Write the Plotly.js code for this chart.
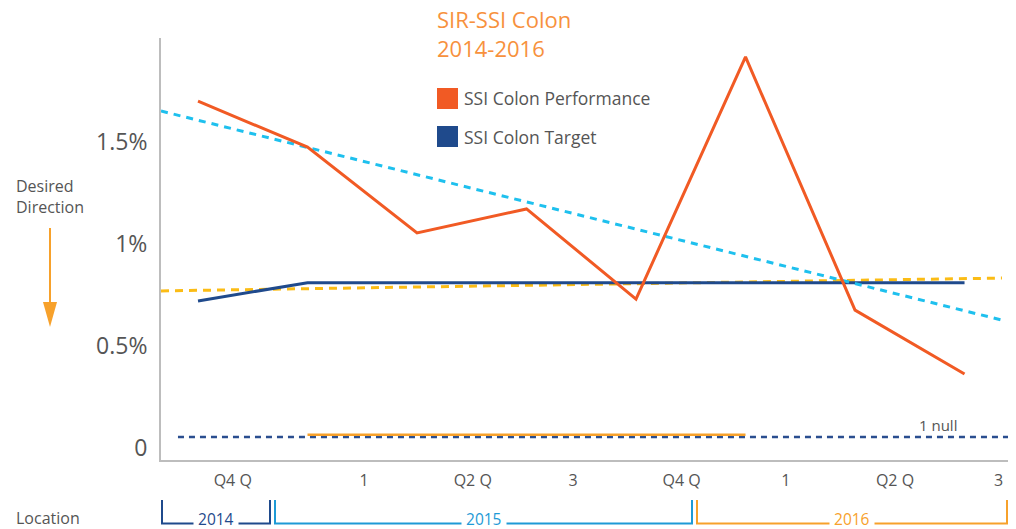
<!DOCTYPE html>
<html>
<head>
<meta charset="utf-8">
<script src="https://cdn.plot.ly/plotly-3.0.1.min.js"></script>
<style>
  html, body { margin: 0; padding: 0; background: #fff; }
  #chart { width: 1016px; height: 529px; }
</style>
</head>
<body>
<div id="chart"></div>
<script>
// quarter positions (Q4 2014 .. Q3 2016)
const quarterIdx = [0, 1, 2, 3, 4, 5, 6, 7];
const performance = [1.70, 1.475, 1.054, 1.172, 0.730, 1.917, 0.676, 0.363];
const target = [0.721, 0.81, 0.81, 0.81, 0.81, 0.81, 0.81, 0.81];

// trend lines (end points)
const trendX = [-0.338, 7.342];
const perfTrend = [1.652, 0.627];
const targetTrend = [0.770, 0.833];

// the "null" rows near zero
const nullX = [-0.183, 7.397];
const nullY = [0.054, 0.054];
const nullOrangeX = [1, 5];
const nullOrangeY = [0.065, 0.065];

// axis labels
const xTickVals = [0.317, 1.516, 2.509, 3.425, 4.417, 5.367, 6.365, 7.31];
const xTickText = ['Q4 Q', '1', 'Q2 Q', '3', 'Q4 Q', '1', 'Q2 Q', '3'];
const yTickVals = [0, 0.5, 1, 1.5];
const yTickText = ['0', '0.5%', '1%', '1.5%'];

const titleText = 'SIR-SSI Colon<br>2014-2016';
const legendNames = ['SSI Colon Performance', 'SSI Colon Target'];
const years = ['2014', '2015', '2016'];

const cPerf = '#F15A24';
const cTarget = '#1F4A8C';
const cCyan = '#1EC0EE';
const cYellow = '#FBBC15';
const cOrange = '#F7A12B';
const cText = '#555555';

// plot area in pixels, used to turn decoration pixel spots into paper coords
const plotL = 161, plotR = 1008, plotT = 38, plotB = 460;
const px = (x) => (x - plotL) / (plotR - plotL);
const py = (y) => (plotB - y) / (plotB - plotT);

const traces = [
	{x: nullX, y: nullY, mode: 'lines', line: {color: '#2A4E8F', width: 2.5, dash: '6px,5px'}},
	{x: nullOrangeX, y: nullOrangeY, mode: 'lines', line: {color: cOrange, width: 2.5}},
	{x: trendX, y: targetTrend, mode: 'lines', line: {color: cYellow, width: 3, dash: '8px,6px'}},
	{x: quarterIdx, y: target, mode: 'lines', line: {color: cTarget, width: 3}},
	{x: trendX, y: perfTrend, mode: 'lines', line: {color: cCyan, width: 3, dash: '7px,6px'}},
	{x: quarterIdx, y: performance, mode: 'lines', line: {color: cPerf, width: 3}}
];

const shapes = [];
const annotations = [];

// title, two left aligned lines
annotations.push({xref: 'paper', yref: 'paper', x: px(435), y: py(33), xanchor: 'left', yanchor: 'middle',
	showarrow: false, align: 'left', text: titleText, font: {size: 22, color: '#F7913D'}});

// legend squares + names
const legendColors = [cPerf, cTarget];
const legendTop = [88, 126];
for (let i = 0; i < legendNames.length; i++) {
	shapes.push({type: 'rect', xref: 'paper', yref: 'paper',
		x0: px(437), x1: px(458), y0: py(legendTop[i]), y1: py(legendTop[i] + 21),
		fillcolor: legendColors[i], line: {width: 0}});
	annotations.push({xref: 'paper', yref: 'paper', x: px(462), y: py(legendTop[i] + 10.5),
		xanchor: 'left', yanchor: 'middle', showarrow: false, text: legendNames[i],
		font: {size: 17.5, color: cText}});
}

// desired direction arrow
annotations.push({xref: 'paper', yref: 'paper', x: px(14), y: py(197), xanchor: 'left', yanchor: 'middle',
	showarrow: false, align: 'left', text: 'Desired<br>Direction', font: {size: 16, color: cText}});
shapes.push({type: 'line', xref: 'paper', yref: 'paper', x0: px(50), x1: px(50), y0: py(228), y1: py(305),
	line: {color: cOrange, width: 2}});
shapes.push({type: 'path', xref: 'paper', yref: 'paper',
	path: 'M ' + px(43) + ',' + py(302) + ' L ' + px(57) + ',' + py(302) + ' L ' + px(50) + ',' + py(327) + ' Z',
	fillcolor: cOrange, line: {width: 0}});

annotations.push({xref: 'paper', yref: 'paper', x: px(14), y: py(517.5), xanchor: 'left', yanchor: 'middle',
	showarrow: false, text: 'Location', font: {size: 16, color: cText}});

annotations.push({xref: 'paper', yref: 'paper', x: px(938), y: py(425), xanchor: 'center', yanchor: 'middle',
	showarrow: false, text: '1 null', font: {size: 15, color: cText}});

// year brackets under the axis
const bracketL = [162, 275, 697];
const bracketR = [270, 692, 1007];
const bracketColors = [cTarget, '#1E9AD6', cOrange];
for (let i = 0; i < years.length; i++) {
	let l = px(bracketL[i]), r = px(bracketR[i]);
	shapes.push({type: 'path', xref: 'paper', yref: 'paper',
		path: 'M ' + l + ',' + py(500) + ' L ' + l + ',' + py(523.5) + ' L ' + r + ',' + py(523.5) + ' L ' + r + ',' + py(500),
		line: {color: bracketColors[i], width: 2}});
	annotations.push({xref: 'paper', yref: 'paper', x: (l + r) / 2, y: py(519), xanchor: 'center', yanchor: 'middle',
		showarrow: false, text: '\u00a0' + years[i] + '\u00a0', bgcolor: '#ffffff', borderpad: 0,
		font: {size: 15.5, color: bracketColors[i]}});
}

const layout = {
	width: 1016, height: 529,
	margin: {l: plotL, r: 1016 - plotR, t: plotT, b: 529 - plotB},
	paper_bgcolor: '#ffffff', plot_bgcolor: '#ffffff',
	showlegend: false,
	font: {family: '"Open Sans", Lato, sans-serif', color: cText},
	xaxis: {range: [-0.338, 7.397], showgrid: false, zeroline: false, showline: true, linecolor: '#BDBDBD', linewidth: 2,
		tickmode: 'array', tickvals: xTickVals, ticktext: xTickText, ticks: 'outside', ticklen: 5, tickcolor: 'rgba(0,0,0,0)',
		tickfont: {size: 16, color: cText}},
	yaxis: {range: [-0.059, 2.01], showgrid: false, zeroline: false, showline: true, linecolor: '#BDBDBD', linewidth: 2,
		tickmode: 'array', tickvals: yTickVals, ticktext: yTickText, ticks: 'outside', ticklen: 7, tickcolor: 'rgba(0,0,0,0)',
		tickfont: {size: 23, color: cText}},
	shapes: shapes,
	annotations: annotations
};

Plotly.newPlot('chart', traces, layout, {staticPlot: true});
</script>
</body>
</html>
